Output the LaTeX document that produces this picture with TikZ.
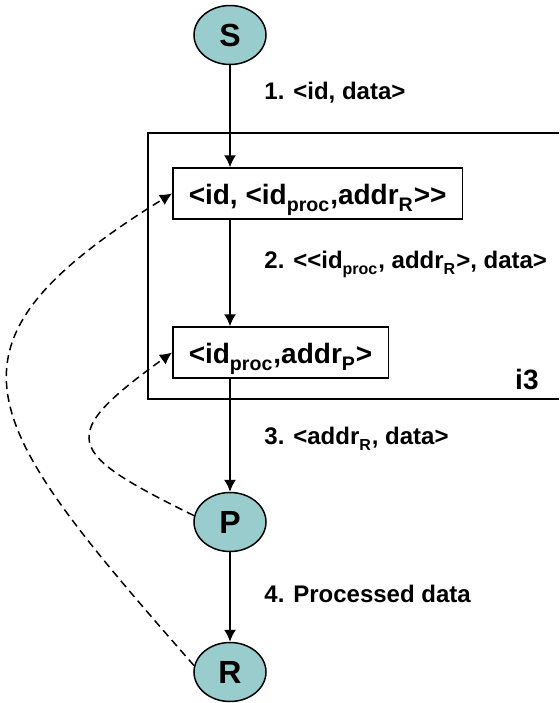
\documentclass[tikz,border=0pt]{standalone}
\usepackage{fontspec}
\setmainfont{Liberation Sans}
\usepackage{xcolor}
\usetikzlibrary{shapes.geometric,positioning,arrows.meta}

\definecolor{peer}{RGB}{153,204,204}
% subscript set a little lower than \textsubscript
\newcommand{\lowidx}[1]{\raisebox{-0.12em}{\textsubscript{#1}}}

\begin{document}
\begin{tikzpicture}[
    x=0.5pt, y=-0.5pt,
    line width=0.75pt,
    peernode/.style={
      draw, ellipse, fill=peer,
      minimum width=36pt, minimum height=29.5pt,
      inner sep=0pt, font=\fontsize{16}{18}\selectfont\bfseries
    },
    entry/.style={
      draw, anchor=west, minimum height=25.5pt,
      inner xsep=8pt, inner ysep=0pt,
      text height=15pt, text depth=4.5pt,
      font=\fontsize{14}{16}\selectfont\bfseries
    },
    msg/.style={anchor=base west, font=\fontsize{12}{14}\selectfont\bfseries},
    back/.style={dashed, dash pattern=on 4pt off 2.5pt},
    >={Latex[length=6pt,width=6pt]}
]
  \useasboundingbox (0,0) rectangle (559,703);

  % peers
  \node[peernode] (S) at (230,35)  {S};
  \node[peernode] (P) at (230,522) {P};
  \node[peernode] (R) at (230,672) {R};

  % node i3 and its table
  \coordinate (frameNE) at (559,133);
  \coordinate (frameSE) at (559,399);
  \draw (frameNE) -- (148,133) -- (148,399) -- (frameSE);
  \node[anchor=base east, font=\fontsize{14}{16}\selectfont\bfseries] (i3) at (546,389) {i3};

  \node[entry] (trig) at (172,193.5) {<id, <id\lowidx{proc},addr\lowidx{R}>\kern0pt>};
  \node[entry] (proc) at (172,352.5) {<id\lowidx{proc},addr\lowidx{P}>};

  % forward path
  \draw[->] (S) -- (S |- trig.north);
  \draw[->] (trig.south -| S) -- (proc.north -| S);
  \draw[->] (proc.south -| S) -- (P);
  \draw[->] (P) -- (R);

  % messages
  \node[msg] (m1) at (257,99)  {1. <id, data>};
  \node[msg] (m2) at (257,268) {2. <\kern0pt<id\lowidx{proc}, addr\lowidx{R}>, data>};
  \node[msg] (m3) at (257,444) {3. <addr\lowidx{R}, data>};
  \node[msg] (m4) at (257,602) {4. Processed data};

  % insertion of the triggers
  \draw[back, ->] (R.170) .. controls (-22,419) and (-76,347) .. (trig.west);
  \draw[back, ->] (P.170) .. controls (65,452) and (55,437) .. (proc.west);

\end{tikzpicture}
\end{document}
